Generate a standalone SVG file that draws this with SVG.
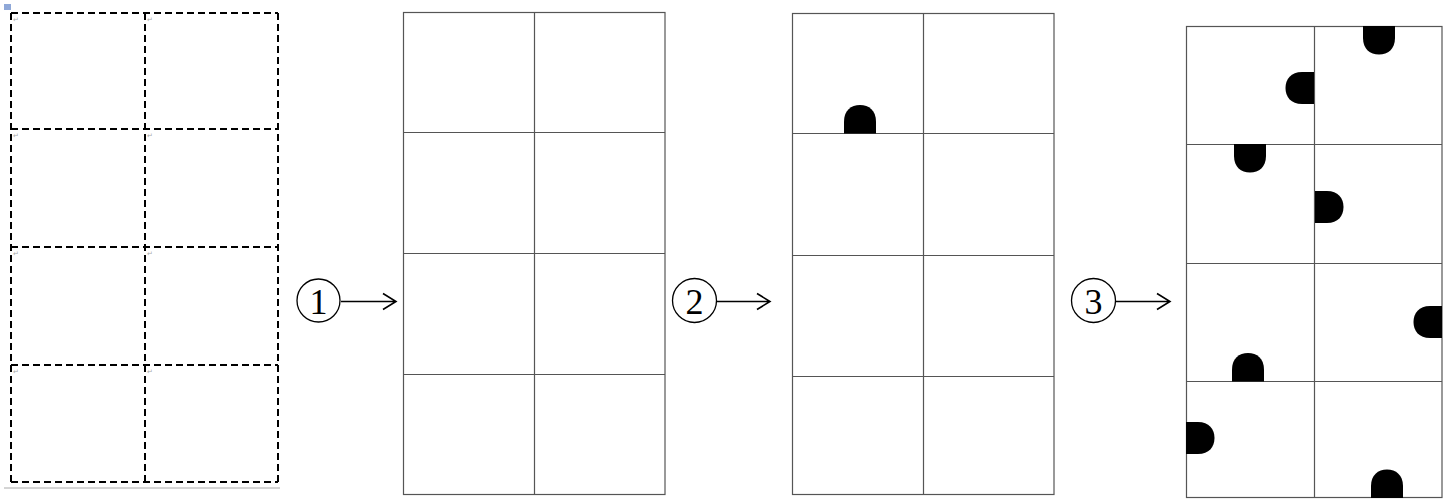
<svg xmlns="http://www.w3.org/2000/svg" width="1451" height="499" viewBox="0 0 1451 499">
<style>
.dash{fill:none;stroke:#000;stroke-width:2;stroke-dasharray:7 4}
.grid{fill:none;stroke:#555;stroke-width:1.2}
.num{font-family:"Liberation Serif",serif;font-size:36px;fill:#000;text-anchor:middle}
.circ{fill:none;stroke:#000;stroke-width:1.3}
.arr{fill:none;stroke:#000;stroke-width:1.6}
.pm{font-family:"DejaVu Sans",sans-serif;font-size:7px;fill:#aaa}
.bump{fill:#000}
</style>
<defs>
<path id="bump" d="M-16,0 V-12 C-16,-23 -9,-28.5 0,-28.5 C9,-28.5 16,-23 16,-12 V0 Z"/>
</defs>
<rect width="1451" height="499" fill="#fff"/>
<g id="panel1">
<rect x="4" y="4" width="7" height="6" fill="#8fa8d8"/>
<path class="dash" d="M11,13 H278 M11,129 H278 M11,247 H278 M11,365 H278 M11,482 H278 M11,13 V482 M145,13 V482 M278,13 V482"/>
<line x1="4" y1="488" x2="280" y2="488" stroke="#aaa" stroke-width="1"/>
<text class="pm" x="13" y="22">↵</text><text class="pm" x="147" y="22">↵</text>
<text class="pm" x="13" y="138">↵</text><text class="pm" x="147" y="138">↵</text>
<text class="pm" x="13" y="256">↵</text><text class="pm" x="147" y="256">↵</text>
<text class="pm" x="13" y="374">↵</text><text class="pm" x="147" y="374">↵</text>
</g>
<g id="panel2">
<rect class="grid" x="403.5" y="12.5" width="261.5" height="482"/>
<path class="grid" d="M534.5,12.5 V494.5 M403.5,132.5 H665 M403.5,253.5 H665 M403.5,374.5 H665"/>
</g>
<g id="panel3">
<rect class="grid" x="792.5" y="13.5" width="261.5" height="481"/>
<path class="grid" d="M923.5,13.5 V494.5 M792.5,133.5 H1054 M792.5,255.5 H1054 M792.5,376.5 H1054"/>
<use href="#bump" class="bump" transform="translate(860,133.5)"/>
</g>
<g id="panel4">
<rect class="grid" x="1186.5" y="26.5" width="255.5" height="471"/>
<path class="grid" d="M1314.5,26.5 V497.5 M1186.5,144.5 H1442 M1186.5,263.5 H1442 M1186.5,381.5 H1442"/>
<use href="#bump" class="bump" transform="translate(1379,26) rotate(180)"/>
<use href="#bump" class="bump" transform="translate(1314,88) rotate(-90)"/>
<use href="#bump" class="bump" transform="translate(1250,144) rotate(180)"/>
<use href="#bump" class="bump" transform="translate(1315,207) rotate(90)"/>
<use href="#bump" class="bump" transform="translate(1442,322) rotate(-90)"/>
<use href="#bump" class="bump" transform="translate(1248,381.5)"/>
<use href="#bump" class="bump" transform="translate(1186,438) rotate(90)"/>
<use href="#bump" class="bump" transform="translate(1387,498)"/>
</g>
<g id="connectors">
<g id="step1">
<circle class="circ" cx="318.5" cy="300.5" r="21.5"/>
<text class="num" x="318.5" y="314">1</text>
<path class="arr" d="M341,301.5 H395 M383,293.5 L396,301.5 L383,309.5"/>
</g>
<g id="step2">
<circle class="circ" cx="694.5" cy="300.5" r="22"/>
<text class="num" x="694.5" y="314">2</text>
<path class="arr" d="M717,301.5 H769 M757,293.5 L770,301.5 L757,309.5"/>
</g>
<g id="step3">
<circle class="circ" cx="1093.5" cy="300.5" r="22"/>
<text class="num" x="1093.5" y="314">3</text>
<path class="arr" d="M1116,301.5 H1169 M1157,293.5 L1170,301.5 L1157,309.5"/>
</g>
</g>
</svg>
